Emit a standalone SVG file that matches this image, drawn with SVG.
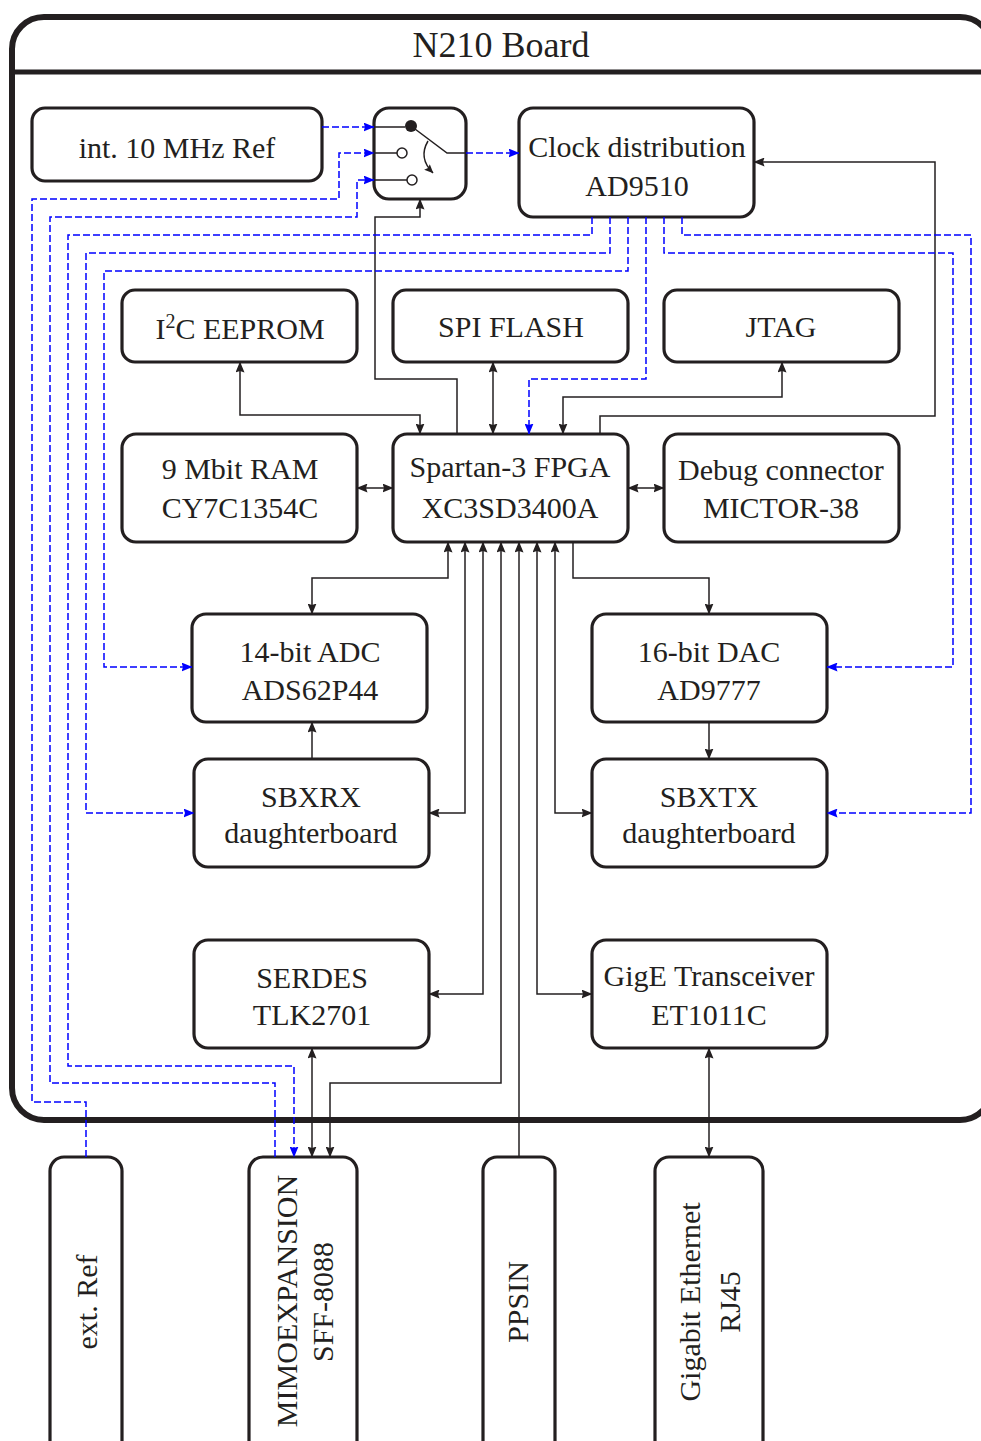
<svg xmlns="http://www.w3.org/2000/svg" width="981" height="1441" viewBox="0 0 981 1441">
<style>
.bx{fill:#fff;stroke:#231f20;stroke-width:3.2}
.t{font-family:"Liberation Serif","DejaVu Serif",serif;font-size:30px;fill:#231f20;text-anchor:middle}
.c{fill:none;stroke:#231f20;stroke-width:1.5}
.d{fill:none;stroke:#0000ff;stroke-width:1.5;stroke-dasharray:7 3}
</style>
<defs>
<marker id="ak" viewBox="0 0 11 9" refX="10.5" refY="4.5" markerWidth="11" markerHeight="9" markerUnits="userSpaceOnUse" orient="auto-start-reverse"><path d="M0,0 L11,4.5 L0,9 L1.5,4.5 z" fill="#231f20"/></marker>
<marker id="ab" viewBox="0 0 11 9" refX="10.5" refY="4.5" markerWidth="11" markerHeight="9" markerUnits="userSpaceOnUse" orient="auto-start-reverse"><path d="M0,0 L11,4.5 L0,9 L1.5,4.5 z" fill="#0000ff"/></marker>
<marker id="as" viewBox="0 0 9 8" refX="8.5" refY="4" markerWidth="9" markerHeight="8" markerUnits="userSpaceOnUse" orient="auto"><path d="M0,0 L9,4 L0,8 L1.5,4 z" fill="#231f20"/></marker>
</defs>
<g id="board">
<rect x="12" y="17" width="980" height="1103" rx="32" fill="none" stroke="#231f20" stroke-width="6"/>
<line x1="12" y1="72" x2="992" y2="72" stroke="#231f20" stroke-width="5"/>
<text class="t" x="501" y="57" style="font-size:36px">N210 Board</text>
</g>
<g id="intref"><rect class="bx" x="32" y="108" width="290" height="73" rx="13"/><text class="t" x="177" y="158">int. 10 MHz Ref</text></g>
<g id="switch"><rect class="bx" x="374" y="108" width="92" height="91" rx="15"/>
<path class="c" d="M374,127 H405 M374,153 H397 M374,180 H407 M411,126 L447,153 H466"/>
<circle cx="411" cy="126" r="6" fill="#231f20"/>
<circle cx="402" cy="153" r="5" fill="#fff" stroke="#231f20" stroke-width="1.5"/>
<circle cx="412" cy="180" r="5" fill="#fff" stroke="#231f20" stroke-width="1.5"/>
<path class="c" d="M428,141 Q418,158 433,173" marker-end="url(#as)"/>
</g>
<g id="clock"><rect class="bx" x="519" y="108" width="235" height="109" rx="14"/><text class="t" x="637" y="157">Clock distribution</text><text class="t" x="637" y="196">AD9510</text></g>
<g id="eeprom"><rect class="bx" x="122" y="290" width="235" height="72" rx="13"/><text class="t" x="240" y="339">I<tspan style="font-size:20px" dy="-11">2</tspan><tspan dy="11">C EEPROM</tspan></text></g>
<g id="flash"><rect class="bx" x="393" y="290" width="235" height="72" rx="13"/><text class="t" x="511" y="337">SPI FLASH</text></g>
<g id="jtag"><rect class="bx" x="664" y="290" width="235" height="72" rx="13"/><text class="t" x="781" y="337">JTAG</text></g>
<g id="ram"><rect class="bx" x="122" y="434" width="235" height="108" rx="14"/><text class="t" x="240" y="479">9 Mbit RAM</text><text class="t" x="240" y="518">CY7C1354C</text></g>
<g id="fpga"><rect class="bx" x="393" y="434" width="235" height="108" rx="14"/><text class="t" x="510" y="477">Spartan-3 FPGA</text><text class="t" x="510" y="518">XC3SD3400A</text></g>
<g id="debug"><rect class="bx" x="664" y="434" width="235" height="108" rx="14"/><text class="t" x="781" y="480">Debug connector</text><text class="t" x="781" y="518">MICTOR-38</text></g>
<g id="adc"><rect class="bx" x="192" y="614" width="235" height="108" rx="14"/><text class="t" x="310" y="662">14-bit ADC</text><text class="t" x="310" y="700">ADS62P44</text></g>
<g id="dac"><rect class="bx" x="592" y="614" width="235" height="108" rx="14"/><text class="t" x="709" y="662">16-bit DAC</text><text class="t" x="709" y="700">AD9777</text></g>
<g id="sbxrx"><rect class="bx" x="194" y="759" width="235" height="108" rx="14"/><text class="t" x="311" y="807">SBXRX</text><text class="t" x="311" y="843">daughterboard</text></g>
<g id="sbxtx"><rect class="bx" x="592" y="759" width="235" height="108" rx="14"/><text class="t" x="709" y="807">SBXTX</text><text class="t" x="709" y="843">daughterboard</text></g>
<g id="serdes"><rect class="bx" x="194" y="940" width="235" height="108" rx="14"/><text class="t" x="312" y="988">SERDES</text><text class="t" x="312" y="1025">TLK2701</text></g>
<g id="gige"><rect class="bx" x="592" y="940" width="235" height="108" rx="14"/><text class="t" x="709" y="986">GigE Transceiver</text><text class="t" x="709" y="1025">ET1011C</text></g>
<g id="extref"><rect class="bx" x="50" y="1157" width="72" height="320" rx="14"/><text class="t" transform="translate(97,1302) rotate(-90)">ext. Ref</text></g>
<g id="mimo"><rect class="bx" x="249" y="1157" width="108" height="320" rx="14"/><text class="t" transform="translate(297,1301) rotate(-90)">MIMOEXPANSION</text><text class="t" transform="translate(333,1302) rotate(-90)">SFF-8088</text></g>
<g id="ppsin"><rect class="bx" x="483" y="1157" width="72" height="320" rx="14"/><text class="t" transform="translate(528,1302) rotate(-90)">PPSIN</text></g>
<g id="gbe"><rect class="bx" x="655" y="1157" width="108" height="320" rx="14"/><text class="t" transform="translate(700,1302) rotate(-90)">Gigabit Ethernet</text><text class="t" transform="translate(740,1302) rotate(-90)">RJ45</text></g>
<g id="connectors">
<path class="c" d="M457,434 V379 H375 V217 H420 V199" marker-end="url(#ak)"/>
<path class="c" d="M240,362 V415 H420 V434" marker-start="url(#ak)" marker-end="url(#ak)"/>
<path class="c" d="M493,362 V434" marker-start="url(#ak)" marker-end="url(#ak)"/>
<path class="c" d="M563,434 V397 H782 V362" marker-start="url(#ak)" marker-end="url(#ak)"/>
<path class="c" d="M600,434 V416 H935 V162 H754" marker-end="url(#ak)"/>
<path class="c" d="M357,488 H393" marker-start="url(#ak)" marker-end="url(#ak)"/>
<path class="c" d="M628,488 H664" marker-start="url(#ak)" marker-end="url(#ak)"/>
<path class="c" d="M448,542 V578 H312 V614" marker-start="url(#ak)" marker-end="url(#ak)"/>
<path class="c" d="M573,542 V578 H709 V614" marker-end="url(#ak)"/>
<path class="c" d="M312,759 V722" marker-end="url(#ak)"/>
<path class="c" d="M709,722 V759" marker-end="url(#ak)"/>
<path class="c" d="M465,542 V813 H429" marker-start="url(#ak)" marker-end="url(#ak)"/>
<path class="c" d="M483,542 V994 H429" marker-start="url(#ak)" marker-end="url(#ak)"/>
<path class="c" d="M501,542 V1083 H330 V1157" marker-start="url(#ak)" marker-end="url(#ak)"/>
<path class="c" d="M519,1157 V542" marker-end="url(#ak)"/>
<path class="c" d="M537,542 V994 H592" marker-start="url(#ak)" marker-end="url(#ak)"/>
<path class="c" d="M555,542 V813 H592" marker-start="url(#ak)" marker-end="url(#ak)"/>
<path class="c" d="M312,1048 V1157" marker-start="url(#ak)" marker-end="url(#ak)"/>
<path class="c" d="M709,1048 V1157" marker-start="url(#ak)" marker-end="url(#ak)"/>
<path class="d" d="M322,127 H374" marker-end="url(#ab)"/>
<path class="d" d="M86,1157 V1102 H32 V199 H339 V153 H374" marker-end="url(#ab)"/>
<path class="d" d="M275,1157 V1083 H50 V217 H357 V180 H374" marker-end="url(#ab)"/>
<path class="d" d="M466,153 H519" marker-end="url(#ab)"/>
<path class="d" d="M592,217 V235 H68 V1066 H294 V1157" marker-end="url(#ab)"/>
<path class="d" d="M610,217 V253 H86 V813 H194" marker-end="url(#ab)"/>
<path class="d" d="M628,217 V271 H104 V667 H192" marker-end="url(#ab)"/>
<path class="d" d="M646,217 V379 H529 V434" marker-end="url(#ab)"/>
<path class="d" d="M664,217 V253 H953 V667 H827" marker-end="url(#ab)"/>
<path class="d" d="M682,217 V235 H971 V813 H827" marker-end="url(#ab)"/>
</g>
</svg>
